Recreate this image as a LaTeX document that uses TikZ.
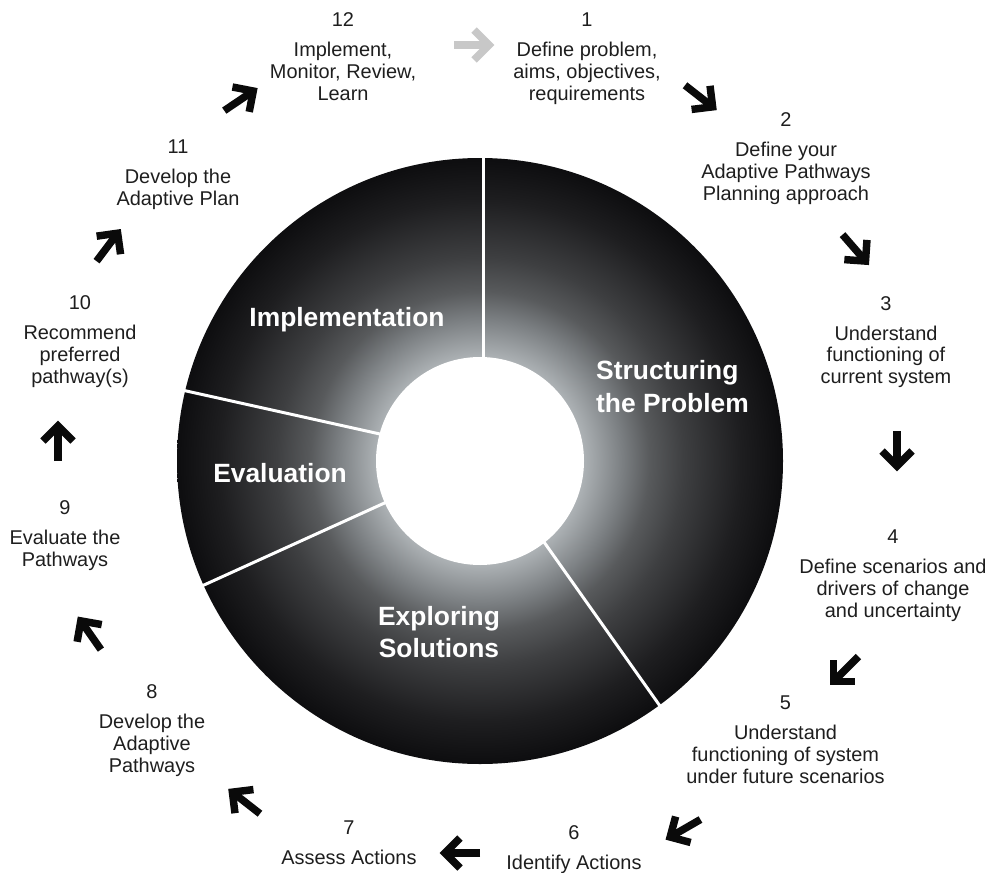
\documentclass[tikz,border=0pt]{standalone}
\usepackage{fontspec}
\setmainfont{Liberation Sans}
\usetikzlibrary{calc}

\definecolor{labelgray}{RGB}{30,30,30}
\definecolor{arrowdark}{RGB}{10,10,10}
\definecolor{arrowlight}{RGB}{200,200,200}
% radial steps of the ring shading, from the hole outwards
\definecolor{shA}{RGB}{182,187,190}
\definecolor{shB}{RGB}{172,177,180}
\definecolor{shC}{RGB}{122,126,129}
\definecolor{shD}{RGB}{88,90,92}
\definecolor{shE}{RGB}{62,63,65}
\definecolor{shF}{RGB}{30,30,32}
\definecolor{shG}{RGB}{14,14,16}

% 25bp of the shading reaches the outer rim of the ring
\pgfdeclareradialshading{ringshade}{\pgfpoint{0bp}{0bp}}{%
  color(0bp)=(shA); color(8.6bp)=(shB); color(11.8bp)=(shC);
  color(14bp)=(shD); color(16.8bp)=(shE); color(21.5bp)=(shF);
  color(24.8bp)=(shG); color(50bp)=(shG)}

\tikzset{
  steplabel/.style={align=center, inner sep=0pt, anchor=north, text=labelgray,
    font=\fontsize{20}{22}\selectfont},
  phaselabel/.style={text=white, inner sep=0pt,
    font=\fontsize{26.5}{33}\selectfont\bfseries},
  divider/.style={draw=white, line width=3bp, line cap=butt},
  cyclearrow/.pic={
    \draw[line width=7.5, line cap=butt] (-19,0) -- (15,0);
    \draw[line width=7.5, line cap=butt, line join=miter] (1,-15) -- (16,0) -- (1,15);
  },
}

\begin{document}
\begin{tikzpicture}[x=1bp, y=-1bp]
\useasboundingbox (0,0) rectangle (991,873);

% shaded ring with its white hole
\coordinate (ctr) at (480,461);
\shade[shading=ringshade] (ctr) circle[radius=303];
\fill[white] (ctr) circle[radius=104];

% white dividers between the four phases
\begin{scope}[shift={(ctr)}]
  \draw[divider] (3,-100) -- (3,-306);
  \draw[divider] (-164.8:100) -- (-166.6:306);
  \draw[divider] (156.3:100) -- (155.8:306);
  \draw[divider] (51.6:100) -- (53.7:306);
\end{scope}

% phase names
\node[phaselabel] (implementation) at (347,320) {Implementation};
\node[phaselabel, align=left, anchor=west] (structuring) at (596,386.5) {Structuring\\the Problem};
\node[phaselabel] (evaluation) at (280,473) {Evaluation};
\node[phaselabel, align=center] (exploring) at (439,632) {Exploring\\Solutions};

% the twelve steps around the ring
\node[steplabel] (s1) at (587,12.8) {1\\[8pt]Define problem,\\aims, objectives,\\requirements};
\node[steplabel] (s2) at (786,112.8) {2\\[8pt]Define your\\Adaptive Pathways\\Planning approach};
\node[steplabel] (s3) at (886,296) {3\\[8pt]Understand\\functioning of\\current system};
\node[steplabel] (s4) at (893,529.8) {4\\[8pt]Define scenarios and\\drivers of change\\and uncertainty};
\node[steplabel] (s5) at (785.5,695.8) {5\\[8pt]Understand\\functioning of system\\under future scenarios};
\node[steplabel] (s6) at (574,825.8) {6\\[8pt]Identify Actions};
\node[steplabel] (s7) at (349,820.8) {7\\[8pt]Assess Actions};
\node[steplabel] (s8) at (152,684.5) {8\\[8pt]Develop the\\Adaptive\\Pathways};
\node[steplabel] (s9) at (65,500.8) {9\\[8pt]Evaluate the\\Pathways};
\node[steplabel] (s10) at (80,295.8) {10\\[8pt]Recommend\\preferred\\pathway(s)};
\node[steplabel] (s11) at (178,139.5) {11\\[8pt]Develop the\\Adaptive Plan};
\node[steplabel] (s12) at (343,12.8) {12\\[8pt]Implement,\\Monitor, Review,\\Learn};

% arrows leading from one step to the next
\pic[color=arrowlight, rotate=0] at (473,45) {cyclearrow};
\begin{scope}[color=arrowdark]
  \pic[rotate=-38] at (700,97) {cyclearrow};
  \pic[rotate=-49] at (855,249) {cyclearrow};
  \pic[rotate=-90] at (897,450) {cyclearrow};
  \pic[rotate=-135] at (845,670) {cyclearrow};
  \pic[rotate=-150] at (684,829) {cyclearrow};
  \pic[rotate=180] at (461,853) {cyclearrow};
  \pic[rotate=142] at (245,802) {cyclearrow};
  \pic[rotate=125] at (90,634) {cyclearrow};
  \pic[rotate=90] at (58,442) {cyclearrow};
  \pic[rotate=53] at (108,246) {cyclearrow};
  \pic[rotate=34] at (240,100) {cyclearrow};
\end{scope}
\end{tikzpicture}
\end{document}
